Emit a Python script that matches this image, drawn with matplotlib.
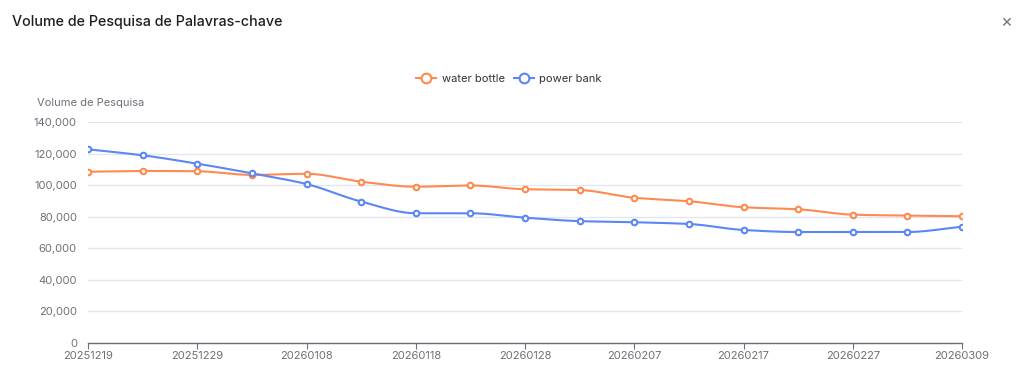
import numpy as np
import matplotlib
matplotlib.use("Agg")
import matplotlib.pyplot as plt
from matplotlib.lines import Line2D

dates = ["20251219", "20251224", "20251229", "20260103", "20260108", "20260113",
         "20260118", "20260123", "20260128", "20260202", "20260207", "20260212",
         "20260217", "20260222", "20260227", "20260304", "20260309"]
water_bottle = [108500, 109000, 108800, 106500, 107200, 102200, 99000, 99800, 97400,
                96900, 92000, 89800, 86000, 84700, 81300, 80700, 80300]
power_bank = [122700, 118900, 113600, 107500, 100700, 89600, 82200, 82200, 79400,
              77200, 76500, 75400, 71600, 70300, 70300, 70300, 73700]
series_names = ["water bottle", "power bank"]
colors = ["#FF8A50", "#5B86F5"]
y_ticks = [0, 20000, 40000, 60000, 80000, 100000, 120000, 140000]

plt.rcParams['font.family'] = ['Inter', 'DejaVu Sans']


def smooth(x, y, n=20):
    x = np.asarray(x, float)
    y = np.asarray(y, float)
    h = np.diff(x)
    d = np.diff(y) / h
    m = np.zeros_like(y)
    m[0], m[-1] = d[0], d[-1]
    for i in range(1, len(y) - 1):
        if d[i - 1] * d[i] <= 0:
            m[i] = 0
        else:
            m[i] = 2 / (1 / d[i - 1] + 1 / d[i])
    xs, ys = [], []
    for i in range(len(x) - 1):
        t = np.linspace(0, 1, n, endpoint=False)
        h00 = 2 * t**3 - 3 * t**2 + 1
        h10 = t**3 - 2 * t**2 + t
        h01 = -2 * t**3 + 3 * t**2
        h11 = t**3 - t**2
        xs.append(x[i] + t * h[i])
        ys.append(h00 * y[i] + h10 * h[i] * m[i] + h01 * y[i + 1] + h11 * h[i] * m[i + 1])
    xs.append([x[-1]])
    ys.append([y[-1]])
    return np.concatenate(xs), np.concatenate(ys)


fig = plt.figure(figsize=(10.24, 3.73), dpi=100)
ax = fig.add_axes([88 / 1024, 1 - 343 / 373, (962 - 88) / 1024, (343 - 122) / 373])

x = np.arange(len(dates))
for vals, name, c in zip([water_bottle, power_bank], series_names, colors):
    sx, sy = smooth(x, vals)
    ax.plot(sx, sy, color=c, lw=1.5, zorder=3, solid_capstyle='round')
    ax.plot(x, vals, ls='none', marker='o', ms=4, mfc='white', mec=c, mew=1.5, zorder=4)

ax.set_xlim(0, len(dates) - 1)
ax.set_ylim(0, 140000)
ax.set_yticks(y_ticks)
ax.set_yticklabels([f"{v:,}" for v in y_ticks])
ax.set_xticks(x[::2])
ax.set_xticklabels(dates[::2])
ax.grid(axis='y', color='#E0E6F1', lw=0.9)
ax.set_axisbelow(True)
for s in ['top', 'right', 'left']:
    ax.spines[s].set_visible(False)
ax.spines['bottom'].set_color('#6E7079')
ax.spines['bottom'].set_linewidth(1.0)
ax.tick_params(axis='y', length=0, pad=8, labelsize=8, labelcolor='#6E7079')
ax.tick_params(axis='x', length=4, color='#6E7079', pad=2, labelsize=8, labelcolor='#6E7079')

fig.text(12 / 1024, 1 - 22 / 373, "Volume de Pesquisa de Palavras-chave", fontsize=10.3,
         fontweight='medium', color='#1f1f1f', va='center', ha='left')
fig.text(1006 / 1024, 1 - 22 / 373, "×", fontsize=13, color='#777777', va='center', ha='center')
fig.text(37 / 1024, 1 - 103 / 373, "Volume de Pesquisa", fontsize=8, color='#6E7079',
         va='center', ha='left')

handles = [Line2D([0], [0], color=c, lw=1.5, marker='o', ms=7, mfc='white', mec=c, mew=1.5)
           for c in colors]
fig.legend(handles, series_names, loc='center', bbox_to_anchor=(509 / 1024, 1 - 79 / 373),
           ncol=2, frameon=False, fontsize=8, labelcolor='#333333', handlelength=1.8,
           handletextpad=0.5, columnspacing=0.8)

fig.savefig("out.png", dpi=100, facecolor='white')
